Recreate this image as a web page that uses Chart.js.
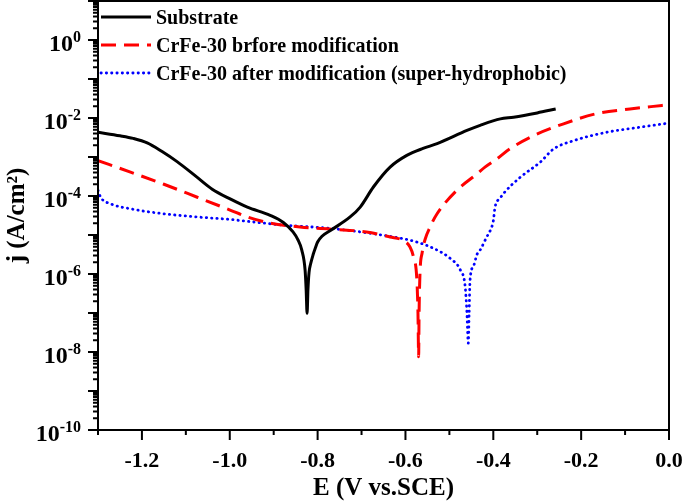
<!DOCTYPE html>
<html><head><meta charset="utf-8">
<script src="https://cdn.jsdelivr.net/npm/chart.js@4/dist/chart.umd.min.js"></script>
<style>html,body{margin:0;padding:0;background:#fff}#wrap{width:685px;height:504px}</style>
</head><body><div id="wrap"><canvas id="c" width="685" height="504"></canvas></div>
<script>
const seriesNames = ['Substrate', 'CrFe-30 brfore modification', 'CrFe-30 after modification (super-hydrophobic)'];
const seriesColors = ['#000000', '#ff0000', '#0000ff'];

const substrateE = [-1.300,-1.250,-1.220,-1.188,-1.155,-1.120,-1.074,-1.040,-0.998,-0.960,-0.908,-0.878,-0.856,-0.845,-0.836,-0.8285,-0.826,-0.824,-0.822,-0.8195,-0.816,-0.810,-0.805,-0.800,-0.790,-0.771,-0.726,-0.703,-0.673,-0.635,-0.597,-0.560,-0.528,-0.460,-0.430,-0.384,-0.354,-0.300,-0.258];
const substrateJ = [4.3e-3,3.5e-3,3.0e-3,2.3e-3,1.4e-3,7.6e-4,3.0e-4,1.5e-4,8.3e-5,5.2e-5,3.2e-5,2.1e-5,1.2e-5,7.6e-6,4.1e-6,1.26e-6,3.8e-7,9.8e-8,4.0e-7,1.1e-6,1.8e-6,3.2e-6,4.7e-6,6.6e-6,9.3e-6,1.3e-5,2.9e-5,5.2e-5,1.7e-4,5.5e-4,1.1e-3,1.66e-3,2.2e-3,4.8e-3,6.5e-3,9.5e-3,1.05e-2,1.35e-2,1.7e-2];

const beforeE = [-1.300,-1.226,-1.150,-1.074,-0.998,-0.960,-0.915,-0.840,-0.764,-0.689,-0.635,-0.605,-0.590,-0.582,-0.574,-0.5715,-0.5700,-0.5690,-0.567,-0.562,-0.555,-0.544,-0.528,-0.483,-0.437,-0.419,-0.392,-0.363,-0.309,-0.240,-0.164,-0.089,-0.016,0.000];
const beforeJ = [8.1e-4,4.1e-4,2.0e-4,9.3e-5,4.3e-5,2.9e-5,2.1e-5,1.6e-5,1.4e-5,1.2e-5,8.9e-6,7.2e-6,5.0e-6,2.8e-6,6.9e-7,9.8e-8,7.6e-9,1.0e-7,1.0e-6,3.5e-6,7.9e-6,1.6e-5,3.5e-5,1.4e-4,3.7e-4,5.5e-4,8.9e-4,1.6e-3,3.5e-3,7.1e-3,1.3e-2,1.7e-2,2.1e-2,2.2e-2];

const afterE = [-1.300,-1.294,-1.271,-1.226,-1.150,-1.074,-0.998,-0.953,-0.878,-0.764,-0.650,-0.574,-0.528,-0.498,-0.475,-0.464,-0.460,-0.457,-0.455,-0.453,-0.445,-0.437,-0.430,-0.415,-0.407,-0.400,-0.396,-0.384,-0.377,-0.339,-0.293,-0.263,-0.218,-0.142,-0.066,0.000];
const afterJ = [1.4e-4,9.3e-5,6.3e-5,4.7e-5,3.5e-5,2.9e-5,2.5e-5,2.2e-5,1.8e-5,1.45e-5,9.8e-6,6.6e-6,4.1e-6,2.5e-6,1.26e-6,4.7e-7,9.8e-8,1.7e-8,1.0e-7,6.9e-7,1.6e-6,3.2e-6,4.1e-6,8.9e-6,1.3e-5,2.3e-5,5.2e-5,8.9e-5,1.15e-4,3.0e-4,7.4e-4,1.6e-3,2.6e-3,4.3e-3,5.8e-3,7.4e-3];

const xTickValues = [-1.2,-1.0,-0.8,-0.6,-0.4,-0.2,0.0];
const xTickLabels = ['-1.2','-1.0','-0.8','-0.6','-0.4','-0.2','0.0'];
const xMinorTickValues = [-1.3,-1.1,-0.9,-0.7,-0.5,-0.3,-0.1];
const yLabelExponents = [-10,-8,-6,-4,-2,0];
const yDecadeExponents = [-10,-9,-8,-7,-6,-5,-4,-3,-2,-1,0,1];
const xTitle = 'E (V vs.SCE)';
const yTitle = 'j (A/cm\u00B2)';

const FONT = "'Liberation Serif','Times New Roman',serif";
const toPts = (xs, ys) => xs.map((x, i) => ({x: x, y: ys[i]}));

const framePlugin = {
  id: 'frame',
  afterDraw(chart) {
    const {ctx, chartArea: a, scales: {x, y}} = chart;
    ctx.save();
    ctx.strokeStyle = '#000';
    ctx.lineWidth = 2;
    ctx.setLineDash([]);
    ctx.strokeRect(a.left, a.top, a.right - a.left, a.bottom - a.top);
    ctx.beginPath();
    for (const e of yDecadeExponents) {
      const base = Math.pow(10, e);
      const py = y.getPixelForValue(base);
      ctx.moveTo(a.left - 10, py); ctx.lineTo(a.left, py);
      if (e < 1) {
        for (let k = 2; k < 10; k++) {
          const pm = y.getPixelForValue(k * base);
          ctx.moveTo(a.left - 5, pm); ctx.lineTo(a.left, pm);
        }
      }
    }
    for (const v of xTickValues) {
      const px = x.getPixelForValue(v);
      ctx.moveTo(px, a.bottom); ctx.lineTo(px, a.bottom + 10);
    }
    for (const v of xMinorTickValues) {
      const px = x.getPixelForValue(v);
      ctx.moveTo(px, a.bottom); ctx.lineTo(px, a.bottom + 5);
    }
    ctx.stroke();

    ctx.fillStyle = '#000';
    // x tick labels
    ctx.font = 'bold 22px ' + FONT;
    ctx.textAlign = 'center';
    ctx.textBaseline = 'alphabetic';
    xTickValues.forEach((v, i) => {
      ctx.fillText(xTickLabels[i], x.getPixelForValue(v), a.bottom + 37);
    });

    // y tick labels with superscript exponents
    ctx.textAlign = 'left';
    const right = a.left - 17;
    for (const e of yLabelExponents) {
      const py = y.getPixelForValue(Math.pow(10, e));
      const sup = (e < 0 ? '-' : '') + Math.abs(e);
      ctx.font = 'bold 16px ' + FONT;
      const sw = ctx.measureText(sup).width;
      ctx.font = 'bold 24px ' + FONT;
      const bw = ctx.measureText('10').width;
      ctx.fillText('10', right - sw - bw, py + 11);
      ctx.font = 'bold 16px ' + FONT;
      ctx.fillText(sup, right - sw, py + 2);
    }

    // legend
    chart.data.datasets.forEach((ds, i) => {
      const ry = a.top + 16 + i * 28;
      const x0 = a.left + 3;
      ctx.beginPath();
      ctx.strokeStyle = ds.borderColor;
      ctx.lineWidth = ds.borderWidth;
      ctx.lineCap = ds.borderCapStyle || 'butt';
      ctx.setLineDash(ds.borderDash || []);
      ctx.moveTo(x0, ry); ctx.lineTo(x0 + 50, ry);
      ctx.stroke();
      ctx.setLineDash([]);
      ctx.fillStyle = '#000';
      ctx.font = 'bold 20px ' + FONT;
      ctx.fillText(ds.label, x0 + 55, ry + 7);
    });
    ctx.restore();
  }
};

new Chart(document.getElementById('c'), {
  type: 'line',
  data: {
    datasets: [
      {label: seriesNames[0], data: toPts(substrateE, substrateJ), borderColor: seriesColors[0], borderWidth: 3, pointRadius: 0, cubicInterpolationMode: 'monotone', fill: false},
      {label: seriesNames[1], data: toPts(beforeE, beforeJ), borderColor: seriesColors[1], borderWidth: 3, borderDash: [15, 8], pointRadius: 0, cubicInterpolationMode: 'monotone', fill: false},
      {label: seriesNames[2], data: toPts(afterE, afterJ), borderColor: seriesColors[2], borderWidth: 2.8, borderDash: [0.3, 5], borderCapStyle: 'round', pointRadius: 0, cubicInterpolationMode: 'monotone', fill: false}
    ]
  },
  options: {
    responsive: false,
    devicePixelRatio: 1,
    animation: false,
    layout: {padding: {left: 0, right: 16, top: 1, bottom: 0}},
    plugins: {legend: {display: false}, tooltip: {enabled: false}},
    scales: {
      x: {
        type: 'linear', min: -1.3, max: 0,
        afterBuildTicks: (s) => { s.ticks = xTickValues.map(v => ({value: v})); },
        grid: {display: false, drawTicks: false},
        border: {display: true, color: '#000', width: 2},
        ticks: {display: false},
        title: {display: true, text: xTitle, color: '#000', font: {family: FONT, size: 25, weight: 'bold'}, padding: {top: 44, bottom: 0}}
      },
      y: {
        type: 'logarithmic', min: 1e-10, max: 1e1,
        grid: {display: false, drawTicks: false},
        border: {display: true, color: '#000', width: 2},
        ticks: {display: false},
        title: {display: true, text: yTitle, color: '#000', font: {family: FONT, size: 25, weight: 'bold'}, padding: {top: 3, bottom: 65}}
      }
    }
  },
  plugins: [framePlugin]
});
</script>
</body></html>
